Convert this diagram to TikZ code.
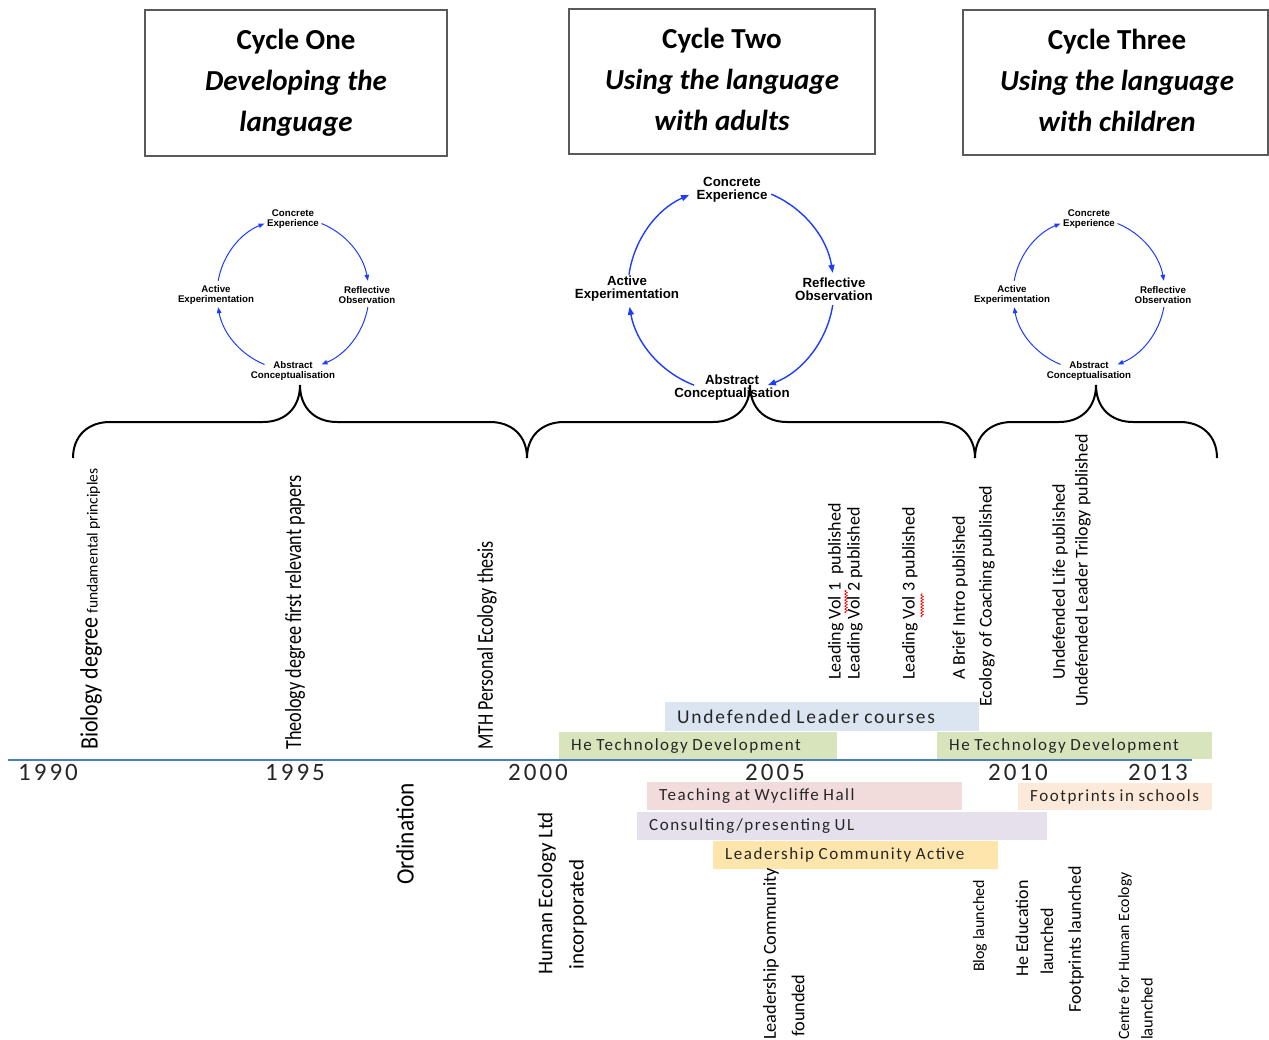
\documentclass[tikz,border=0pt]{standalone}
\usepackage{fontspec}
\setmainfont{Carlito}
\newfontfamily\calfont{Carlito}
\newfontfamily\calspaced{Carlito}[LetterSpace=9,WordSpace=0.85]
\newfontfamily\yearfont{Carlito}[LetterSpace=12]
\newfontfamily\kolbfont{Liberation Sans}
\usetikzlibrary{arrows.meta,decorations.pathmorphing}

\definecolor{framegray}{HTML}{5A5A5A}
\definecolor{kolbblue}{HTML}{1E3CFF}
\definecolor{axisblue}{HTML}{4A7EBB}
\definecolor{ulblue}{HTML}{DBE5F1}
\definecolor{techgreen}{HTML}{D7E4BC}
\definecolor{wypink}{HTML}{F2DCDB}
\definecolor{fppeach}{HTML}{FDE9D9}
\definecolor{culav}{HTML}{E5E0EC}
\definecolor{lcorange}{HTML}{FDE5AB}
\definecolor{bartext}{HTML}{262626}

\newcommand{\fs}[1]{\fontsize{#1}{#1}\selectfont}

% curly brace over a stretch of the time line: left end, tip, right end
\newcommand{\timebrace}[3]{%
  \draw[bracestyle] (#1,458) .. controls (#1,436) and (#1+15,422) .. (#1+37,422)
    -- (#2-37,422) .. controls (#2-15,422) and (#2,408) .. (#2,385)
    .. controls (#2,408) and (#2+15,422) .. (#2+37,422)
    -- (#3-37,422) .. controls (#3-15,422) and (#3,436) .. (#3,458);}

\tikzset{
  cyclebox/.style={draw=framegray, line width=2pt, inner sep=0pt},
  boxtitle/.style={align=center, inner sep=0pt,
    font=\calfont\bfseries\fontsize{29}{41}\selectfont},
  kolbS/.style={align=center, inner sep=0pt, font=\kolbfont\bfseries\fontsize{9.7}{10}\selectfont},
  kolbL/.style={align=center, inner sep=0pt, font=\kolbfont\bfseries\fontsize{13.3}{13}\selectfont},
  kolbarcS/.style={draw=kolbblue, line width=1pt, -{Triangle[length=6pt,width=4.5pt]}},
  kolbarcL/.style={draw=kolbblue, line width=1.4pt, -{Triangle[length=8pt,width=6pt]}},
  bracestyle/.style={draw=black, line width=2pt},
  axisline/.style={draw=axisblue, line width=1.3pt},
  year/.style={inner sep=0pt, font=\yearfont\fs{25}, text=bartext},
  bar/.style={anchor=north west, inner xsep=12pt, inner ysep=0pt, text=bartext,
    font=\calspaced\fs{17}},
  vlabel/.style={rotate=90, anchor=west, inner sep=0pt},
  squiggle/.style={draw=red, line width=0.7pt, decorate,
    decoration={snake, amplitude=1.2pt, segment length=3pt}}
}

\begin{document}
\begin{tikzpicture}[x=1pt, y=-1pt]
\useasboundingbox (0,0) rectangle (1269,1040);

% ---- cycle headings: frames and their titles
\node[cyclebox, minimum width=302pt, minimum height=146pt] (box1) at (296,83) {};
\node[cyclebox, minimum width=306pt, minimum height=145pt] (box2) at (722,81.5) {};
\node[cyclebox, minimum width=305pt, minimum height=145pt] (box3) at (1115.5,82.5) {};
\node[boxtitle] (title1) at (296,83)
  {Cycle One\\ {\itshape Developing the}\\ {\itshape language}};
\node[boxtitle] (title2) at (722,79.5)
  {Cycle Two\\ {\itshape Using the language}\\ {\itshape with adults}};
\node[boxtitle] (title3) at (1117,80.5)
  {Cycle Three\\ {\itshape Using the language}\\ {\itshape with children}};

% ---- learning cycle one
\coordinate (k1) at (293,294);
\node[kolbS] (ce1) at (293,219) {Concrete\\Experience};
\node[kolbS] (ro1) at (367,295) {Reflective\\Observation};
\node[kolbS] (ac1) at (293,371) {Abstract\\Conceptualisation};
\node[kolbS] (ae1) at (216,295) {Active\\Experimentation};
\draw[kolbarcS] ([shift={(68:76pt)}]k1) arc[start angle=68, end angle=10, radius=76pt];
\draw[kolbarcS] ([shift={(-10:76pt)}]k1) arc[start angle=-10, end angle=-68, radius=76pt];
\draw[kolbarcS] ([shift={(248:76pt)}]k1) arc[start angle=248, end angle=190, radius=76pt];
\draw[kolbarcS] ([shift={(170:76pt)}]k1) arc[start angle=170, end angle=112, radius=76pt];

% ---- learning cycle two
\coordinate (k2) at (731,289);
\node[kolbL] (ce2) at (732,190) {Concrete\\Experience};
\node[kolbL] (ro2) at (834,289) {Reflective\\Observation};
\node[kolbL] (ac2) at (732,388) {Abstract\\Conceptualisation};
\node[kolbL] (ae2) at (627,289) {Active\\Experimentation};
\draw[kolbarcL] ([shift={(67:103pt)}]k2) arc[start angle=67, end angle=9, radius=103pt];
\draw[kolbarcL] ([shift={(-9:103pt)}]k2) arc[start angle=-9, end angle=-69, radius=103pt];
\draw[kolbarcL] ([shift={(249:103pt)}]k2) arc[start angle=249, end angle=190, radius=103pt];
\draw[kolbarcL] ([shift={(172:103pt)}]k2) arc[start angle=172, end angle=114, radius=103pt];

% ---- learning cycle three
\coordinate (k3) at (1089,294);
\node[kolbS] (ce3) at (1089,219) {Concrete\\Experience};
\node[kolbS] (ro3) at (1163,295) {Reflective\\Observation};
\node[kolbS] (ac3) at (1089,371) {Abstract\\Conceptualisation};
\node[kolbS] (ae3) at (1012,295) {Active\\Experimentation};
\draw[kolbarcS] ([shift={(68:76pt)}]k3) arc[start angle=68, end angle=10, radius=76pt];
\draw[kolbarcS] ([shift={(-10:76pt)}]k3) arc[start angle=-10, end angle=-68, radius=76pt];
\draw[kolbarcS] ([shift={(248:76pt)}]k3) arc[start angle=248, end angle=190, radius=76pt];
\draw[kolbarcS] ([shift={(170:76pt)}]k3) arc[start angle=170, end angle=112, radius=76pt];

% ---- braces grouping the years
\timebrace{73}{300}{527}
\timebrace{527}{750}{975}
\timebrace{975}{1096}{1217}

% ---- time axis
\coordinate (axL) at (8,760);
\coordinate (axR) at (1192,760);
\draw[axisline] (axL) -- (axR);

\node[year] (y1990) at (48,772) {1990};
\node[year] (y1995) at (295,772) {1995};
\node[year] (y2000) at (538,772) {2000};
\node[year] (y2005) at (775,772) {2005};
\node[year] (y2010) at (1018,772) {2010};
\node[year] (y2013) at (1158,772) {2013};

% ---- activity bars
\node[bar, fill=ulblue, minimum height=29pt, font=\calspaced\fs{19.5}] (ulc) at (665,702)
  {\makebox[290pt][l]{Undefended Leader courses}};
\node[bar, fill=techgreen, minimum height=27pt] (ht1) at (559,732)
  {\makebox[254pt][l]{He Technology Development}};
\node[bar, fill=techgreen, minimum height=27pt] (ht2) at (937,732)
  {\makebox[251pt][l]{He Technology Development}};
\node[bar, fill=wypink, minimum height=28pt] (tw) at (647,782)
  {\makebox[291pt][l]{Teaching at Wycliffe Hall}};
\node[bar, fill=fppeach, minimum height=27pt] (fps) at (1018,783)
  {\makebox[170pt][l]{Footprints in schools}};
\node[bar, fill=culav, minimum height=28pt] (cul) at (637,812)
  {\makebox[386pt][l]{Consulting/presenting UL}};
\node[bar, fill=lcorange, minimum height=28pt] (lca) at (713,841)
  {\makebox[261pt][l]{Leadership Community Active}};

% ---- events above the axis
\node[vlabel, font=\fs{15.5}] (bio) at (91,750)
  {\scalebox{0.88}[1]{\fs{25}Biology degree} fundamental principles};
\node[vlabel, font=\fs{23}] (theo) at (295,750) {\scalebox{0.79}[1]{Theology degree first relevant papers}};
\node[vlabel, font=\fs{22.5}] (mth) at (487,750) {\scalebox{0.8}[1]{MTH Personal Ecology thesis}};
\node[vlabel, font=\fs{18}] (lv1) at (836,680) {Leading Vol 1\ \ published};
\node[vlabel, font=\fs{18}] (lv2) at (855,680) {Leading Vol 2 published};
\node[vlabel, font=\fs{18}] (lv3) at (910,680) {Leading Vol 3 published};
\node[vlabel, font=\fs{18}] (brief) at (960,680) {A Brief Intro published};
\node[vlabel, font=\fs{18}] (coach) at (987,707) {Ecology of Coaching published};
\node[vlabel, font=\fs{18}] (ulife) at (1060,680) {Undefended Life published};
\node[vlabel, font=\fs{18}] (utril) at (1083,707) {Undefended Leader Trilogy published};

% spelling marks under "Vol"
\draw[squiggle] (846,613) -- (846,590);
\draw[squiggle] (922,617) -- (922,593);

% ---- events below the axis
\node[vlabel, font=\fs{25}] (ord) at (405,885) {\scalebox{0.93}[1]{Ordination}};
\node[vlabel, font=\fs{21}] (hel) at (547,975) {Human Ecology Ltd};
\node[vlabel, font=\fs{21}] (inc) at (578,970) {incorporated};
\node[vlabel, font=\fs{18.3}] (lcf) at (771,1040) {Leadership Community};
\node[vlabel, font=\fs{18.3}] (fnd) at (798,1037) {founded};
\node[vlabel, font=\fs{16}] (blog) at (980,972) {Blog launched};
\node[vlabel, font=\fs{18}] (hee) at (1022,977) {He Education};
\node[vlabel, font=\fs{18}] (heel) at (1047,975) {launched};
\node[vlabel, font=\fs{18}] (fpl) at (1076,1013) {Footprints launched};
\node[vlabel, font=\fs{15.8}] (che) at (1125,1040) {Centre for Human Ecology};
\node[vlabel, font=\fs{16.5}] (chel) at (1147,1040) {launched};
\end{tikzpicture}
\end{document}
